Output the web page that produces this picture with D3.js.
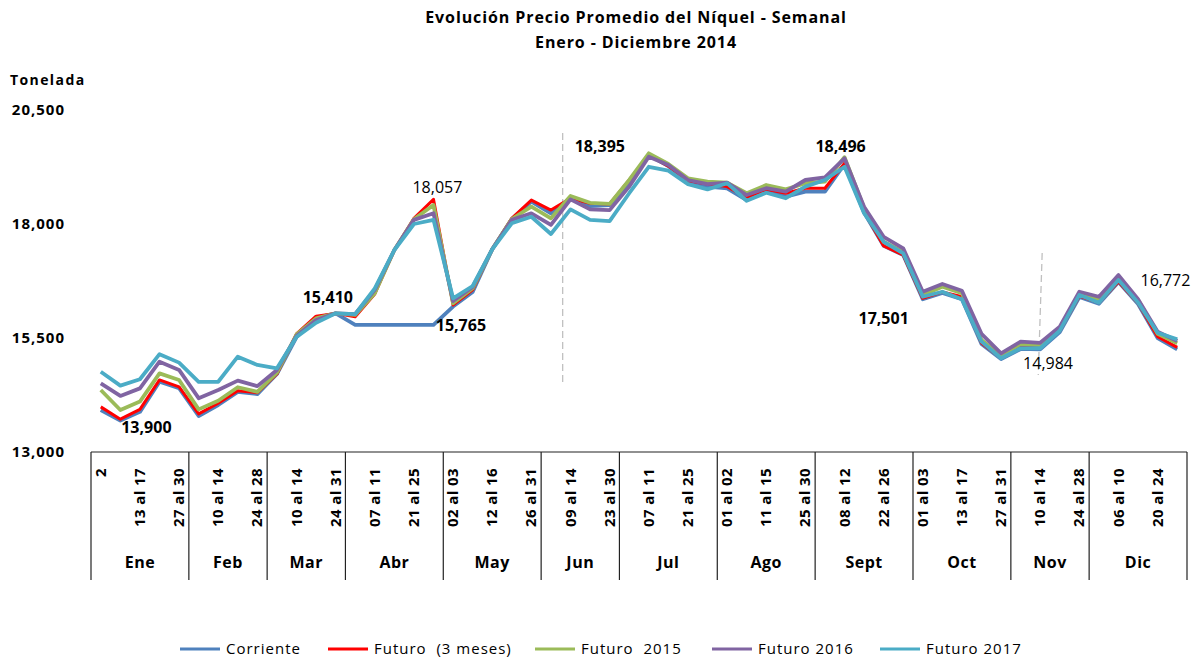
<!DOCTYPE html>
<html>
<head>
<meta charset="utf-8">
<script src="https://cdn.jsdelivr.net/npm/d3@7"></script>
<style>
  body { margin: 0; padding: 0; background: #fff; }
  text { font-family: "Open Sans", "Lato", sans-serif; fill: #000; }
</style>
</head>
<body>
<div id="chart"></div>
<script>
// Weekly categories (2014) and month groups
const weeks = [
  "2", "06 al 10", "13 al 17", "20 al 24", "27 al 30",
  "03 al 07", "10 al 14", "17 al 21", "24 al 28",
  "03 al 07", "10 al 14", "17 al 21", "24 al 31",
  "01 al 04", "07 al 11", "14 al 17", "21 al 25", "28 al 30",
  "02 al 03", "05 al 09", "12 al 16", "19 al 23", "26 al 31",
  "02 al 06", "09 al 14", "16 al 20", "23 al 30",
  "01 al 04", "07 al 11", "14 al 18", "21 al 25", "28 al 31",
  "01 al 02", "04 al 08", "11 al 15", "18 al 22", "25 al 30",
  "01 al 05", "08 al 12", "15 al 19", "22 al 26", "29 al 30",
  "01 al 03", "06 al 10", "13 al 17", "20 al 24", "27 al 31",
  "03 al 07", "10 al 14", "17 al 21", "24 al 28",
  "01 al 05", "06 al 10", "13 al 17", "20 al 24", "27 al 31"
];
const months = ["Ene", "Feb", "Mar", "Abr", "May", "Jun", "Jul", "Ago", "Sept", "Oct", "Nov", "Dic"];
const monthWeeks = [5, 4, 4, 5, 5, 4, 5, 5, 5, 5, 4, 5];

const seriesNames = ["Corriente", "Futuro  (3 meses)", "Futuro  2015", "Futuro 2016", "Futuro 2017"];
const seriesColors = ["#4f81bd", "#ff0000", "#9bbb59", "#8064a2", "#4bacc6"];

const corriente = [
  13920, 13690, 13880, 14540, 14400, 13790, 14030, 14320, 14270, 14710,
  15520, 15940, 16040, 15790, 15790, 15790, 15790, 15790, 16190, 16510,
  17445, 18110, 18490, 18235, 18565, 18395, 18415, 18920, 19510, 19270,
  18920, 18820, 18780, 18525, 18745, 18600, 18710, 18710, 19315, 18250,
  17520, 17320, 16350, 16490, 16350, 15370, 15040, 15260, 15250, 15630,
  16400, 16250, 16730, 16245, 15500, 15250
];
const futuro3m = [
  13990, 13720, 13935, 14580, 14430, 13835, 14070, 14345, 14300, 14710,
  15590, 15980, 16040, 15965, 16465, 17430, 18125, 18540, 16225, 16555,
  17445, 18125, 18525, 18305, 18565, 18455, 18440, 18965, 19510, 19270,
  18950, 18875, 18820, 18585, 18760, 18675, 18785, 18785, 19330, 18270,
  17520, 17320, 16370, 16510, 16405, 15390, 15060, 15325, 15310, 15660,
  16420, 16275, 16735, 16260, 15530, 15295
];
const futuro2015 = [
  14360, 13920, 14105, 14725, 14580, 13935, 14125, 14420, 14320, 14740,
  15575, 15930, 16040, 16005, 16480, 17430, 18105, 18415, 16260, 16590,
  17445, 18110, 18380, 18125, 18615, 18465, 18440, 18965, 19550, 19315,
  19000, 18930, 18905, 18675, 18855, 18760, 18895, 18930, 19465, 18350,
  17610, 17385, 16445, 16625, 16480, 15455, 15105, 15370, 15345, 15700,
  16480, 16335, 16810, 16335, 15590, 15385
];
const futuro2016 = [
  14505, 14230, 14395, 14980, 14800, 14180, 14360, 14565, 14445, 14800,
  15545, 15895, 16040, 16025, 16555, 17430, 18090, 18235, 16310, 16620,
  17445, 18090, 18235, 17980, 18540, 18320, 18305, 18820, 19475, 19295,
  18965, 18875, 18905, 18635, 18785, 18710, 18965, 19025, 19440, 18380,
  17720, 17465, 16515, 16685, 16535, 15590, 15165, 15420, 15395, 15750,
  16515, 16405, 16880, 16350, 15640, 15435
];
const futuro2017 = [
  14760, 14455, 14595, 15145, 14960, 14540, 14540, 15090, 14910, 14835,
  15520, 15835, 16040, 16025, 16590, 17430, 18000, 18090, 16370, 16640,
  17445, 18015, 18160, 17780, 18320, 18090, 18065, 18675, 19255, 19170,
  18875, 18760, 18895, 18510, 18685, 18565, 18820, 18965, 19255, 18235,
  17610, 17355, 16405, 16515, 16350, 15420, 15055, 15275, 15275, 15660,
  16445, 16275, 16770, 16275, 15615, 15470
];
const series = [corriente, futuro3m, futuro2015, futuro2016, futuro2017];

const yTicks = [13000, 15500, 18000, 20500];

// Text boxes placed on the chart: [text, category position, value, bold]
const notes = [
  ["13,900", 2.33, 13420, true],
  ["15,410", 11.6, 16270, true],
  ["18,057", 17.2, 18680, false],
  ["15,765", 18.4, 15650, true],
  ["18,395", 25.5, 19580, true],
  ["18,496", 37.8, 19580, true],
  ["17,501", 40.0, 15810, true],
  ["14,984", 48.4, 14820, false],
  ["16,772", 54.4, 16640, false]
];

const width = 1200, height = 658;
const plotLeft = 91, plotRight = 1187, plotTop = 110, plotBottom = 452;

const svg = d3.select("#chart").append("svg")
  .attr("width", width)
  .attr("height", height);

const x = d3.scaleBand()
  .domain(d3.range(weeks.length))
  .range([plotLeft, plotRight])
  .padding(0);
const bw = x.bandwidth();
const xc = i => plotLeft + (i + 0.5) * bw; // centre of a (possibly fractional) category

const y = d3.scaleLinear()
  .domain([13000, 20500])
  .range([plotBottom, plotTop]);

// Title
svg.append("text")
  .attr("x", 636).attr("y", 23)
  .attr("text-anchor", "middle")
  .attr("font-size", "16px").attr("font-weight", "bold")
  .attr("letter-spacing", "0.9px")
  .text("Evolución Precio Promedio del Níquel - Semanal");
svg.append("text")
  .attr("x", 636).attr("y", 48)
  .attr("text-anchor", "middle")
  .attr("font-size", "16px").attr("font-weight", "bold")
  .attr("letter-spacing", "0.9px")
  .text("Enero - Diciembre 2014");

svg.append("text")
  .attr("x", 10).attr("y", 85)
  .attr("font-size", "14px").attr("font-weight", "bold")
  .attr("letter-spacing", "1.4px")
  .text("Tonelada");

// Y axis: labels only
const yAxis = svg.append("g")
  .attr("transform", `translate(${plotLeft - 26},0)`)
  .call(d3.axisLeft(y).tickValues(yTicks).tickFormat(d3.format(",")).tickSize(0));
yAxis.select(".domain").remove();
yAxis.selectAll("text")
  .attr("font-size", "15px").attr("font-weight", "bold")
  .attr("letter-spacing", "1px")
  .style("font-family", "'Open Sans', sans-serif")
  .attr("x", 0);

// Category axis box
const axisG = svg.append("g");
axisG.append("line")
  .attr("x1", plotLeft).attr("x2", plotRight)
  .attr("y1", plotBottom).attr("y2", plotBottom)
  .attr("stroke", "#222").attr("stroke-width", 1.2);

let start = 0;
const bounds = [0];
monthWeeks.forEach(n => { start += n; bounds.push(start); });
axisG.selectAll(".sep")
  .data(bounds)
  .enter().append("line")
  .attr("class", "sep")
  .attr("x1", d => plotLeft + d * bw).attr("x2", d => plotLeft + d * bw)
  .attr("y1", plotBottom).attr("y2", 580)
  .attr("stroke", "#222").attr("stroke-width", 1.2);

axisG.selectAll(".month")
  .data(months)
  .enter().append("text")
  .attr("class", "month")
  .attr("x", (d, i) => plotLeft + (bounds[i] + bounds[i + 1]) / 2 * bw)
  .attr("y", 568)
  .attr("text-anchor", "middle")
  .attr("font-size", "16px").attr("font-weight", "bold")
  .attr("letter-spacing", "0.5px")
  .text(d => d);

// Week labels, every second category
axisG.selectAll(".week")
  .data(weeks.map((w, i) => ({ w, i })).filter(d => d.i % 2 === 0))
  .enter().append("text")
  .attr("class", "week")
  .attr("transform", d => `translate(${x(d.i) + bw / 2 + 5},468) rotate(-90)`)
  .attr("text-anchor", "end")
  .attr("font-size", "15px").attr("font-weight", "bold")
  .attr("letter-spacing", "0.4px")
  .text(d => d.w);

// Dashed markers
const dashes = [
  [[23.6, 19996], [23.6, 14469]],
  [[48.1, 17364], [47.9, 14689]]
];
svg.selectAll(".dash")
  .data(dashes)
  .enter().append("line")
  .attr("x1", d => xc(d[0][0])).attr("y1", d => y(d[0][1]))
  .attr("x2", d => xc(d[1][0])).attr("y2", d => y(d[1][1]))
  .attr("stroke", "#c0c0c0").attr("stroke-width", 1.3)
  .attr("stroke-dasharray", "7,4");

// Lines
const line = d3.line()
  .x((d, i) => x(i) + bw / 2)
  .y(d => y(d));

svg.selectAll(".series")
  .data(series)
  .enter().append("path")
  .attr("class", "series")
  .attr("fill", "none")
  .attr("stroke", (d, i) => seriesColors[i])
  .attr("stroke-width", (d, i) => i === 1 ? 3 : 3.8)
  .attr("stroke-linejoin", "round")
  .attr("d", line);

// Text annotations
svg.selectAll(".note")
  .data(notes)
  .enter().append("text")
  .attr("class", "note")
  .attr("x", d => xc(d[1]))
  .attr("y", d => y(d[2]))
  .attr("text-anchor", "middle")
  .attr("font-size", "16px")
  .attr("font-weight", d => d[3] ? "bold" : "normal")
  .text(d => d[0]);

// Legend
const legendX = [180, 328, 535, 712, 880];
const legend = svg.selectAll(".legend")
  .data(seriesNames)
  .enter().append("g")
  .attr("class", "legend")
  .attr("transform", (d, i) => `translate(${legendX[i]},649)`);
legend.append("line")
  .attr("x1", 0).attr("x2", 40)
  .attr("stroke", (d, i) => seriesColors[i])
  .attr("stroke-width", 3);
legend.append("text")
  .attr("x", 46).attr("y", 5)
  .attr("font-size", "15px")
  .attr("letter-spacing", "1px")
  .style("white-space", "pre")
  .text(d => d);
</script>
</body>
</html>
